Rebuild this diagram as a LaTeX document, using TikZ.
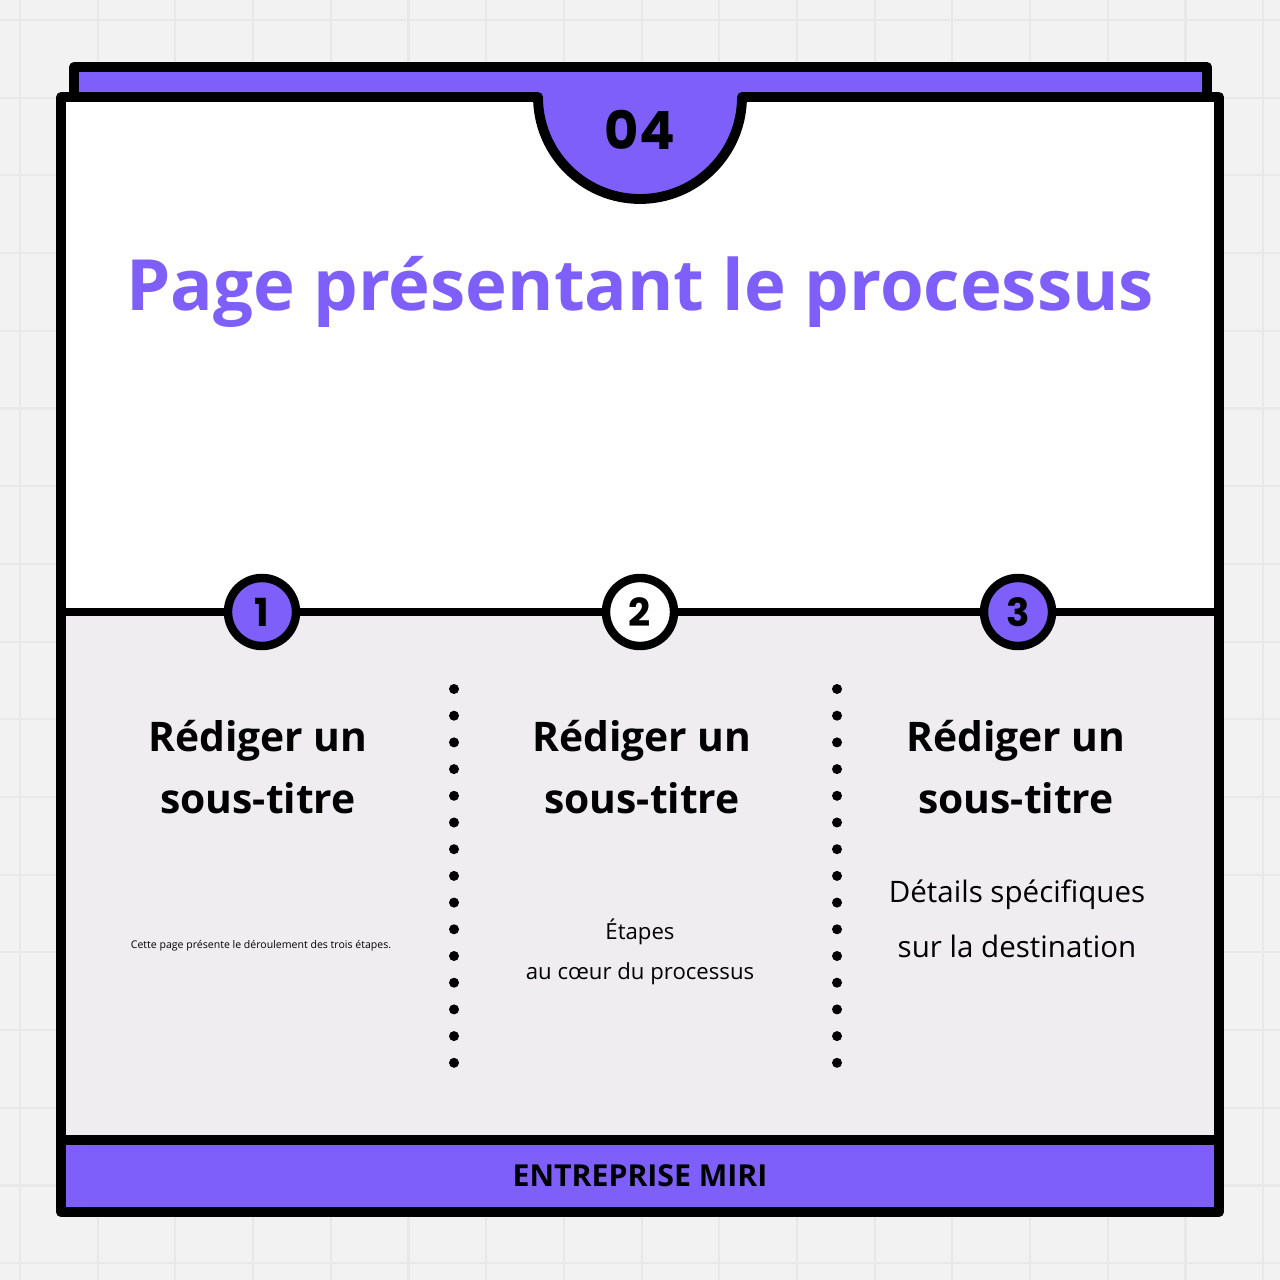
\documentclass[tikz,border=0pt]{standalone}
\usepackage{fontspec}
\setmainfont{Open Sans}
\newfontfamily\pop{Poppins}
\definecolor{pur}{HTML}{7F5FFA}
\definecolor{bgc}{HTML}{F2F2F2}
\definecolor{gridc}{HTML}{E8E8E8}
\definecolor{lowc}{HTML}{EFEDF0}
\tikzset{frame/.style={line width=2.8pt,draw=black,line join=round},
 head/.style={font=\fontsize{11.6}{17.6}\selectfont\bfseries,align=center},
 stepc/.style={circle,draw=black,line width=2.4pt,minimum size=0.68cm,inner sep=0pt,font=\pop\fontsize{11}{11}\selectfont\bfseries},
 dotc/.style={fill=black,circle,inner sep=0pt,minimum size=0.1cm}}
\begin{document}
\begin{tikzpicture}[x=0.01cm,y=-0.01cm]
\fill[bgc] (0,0) rectangle (1280,1280);
\useasboundingbox (0,0) rectangle (1280,1280);
\foreach \i in {0,...,16}{\draw[gridc,line width=0.6pt] (20+77.7*\i,0) -- (20+77.7*\i,1280);
 \draw[gridc,line width=0.6pt] (0,20+77.7*\i) -- (1280,20+77.7*\i);}
\draw[frame,fill=pur] (74,67) rectangle (1207,100);
\fill[white] (61,97) rectangle (1219,612);
\fill[lowc] (61,612) rectangle (1219,1140);
\draw[frame,fill=pur] (61,1140) rectangle (1219,1212);
\fill[pur] (540,90) -- (540,97) arc[start angle=180,end angle=0,radius=100] -- (740,90) -- cycle;
\draw[frame] (61,1212) -- (61,97) -- (538,97) arc[start angle=180,end angle=0,radius=102] -- (1219,97) -- (1219,1212);
\draw[line width=2.4pt] (61,612) -- (1219,612);
\node[font=\pop\fontsize{15}{15}\selectfont\bfseries] (num) at (640,130) {04};
\node[font=\fontsize{20.1}{24}\selectfont\bfseries,text=pur] (title) at (640,292) {Page présentant le processus};
\node[stepc,fill=pur] (s1) at (262,612) {1};
\node[stepc,fill=white] (s2) at (640,612) {2};
\node[stepc,fill=pur] (s3) at (1018,612) {3};
\foreach \x in {454,837}{\foreach \k in {0,...,14}{\node[dotc] at (\x,689+26.7*\k) {};}}
\node[head] (h1) at (258,767) {Rédiger un\\sous-titre};
\node[head] (h2) at (642,767) {Rédiger un\\sous-titre};
\node[head] (h3) at (1016,767) {Rédiger un\\sous-titre};
\node[font=\fontsize{3}{4}\selectfont] (t1) at (261,946) {Cette page présente le déroulement des trois étapes.};
\node[font=\fontsize{6.3}{11.5}\selectfont,align=center] (t2) at (640,952) {Étapes\\au cœur du processus};
\node[font=\fontsize{8.4}{15.5}\selectfont,align=center] (t3) at (1017,919) {Détails spécifiques\\sur la destination};
\node[font=\fontsize{8.6}{9}\selectfont\bfseries] (foot) at (640,1176) {ENTREPRISE MIRI};
\end{tikzpicture}
\end{document}
